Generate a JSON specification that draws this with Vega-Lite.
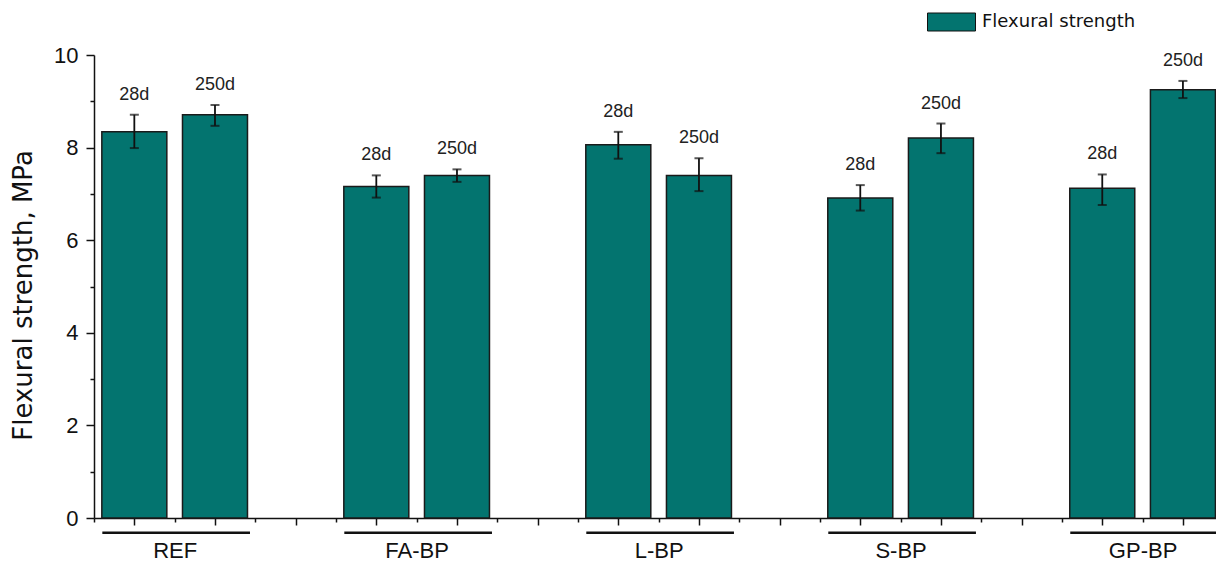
{
  "$schema": "https://vega.github.io/schema/vega-lite/v6.json",
  "width": 1122,
  "height": 463,
  "autosize": {"type": "none"},
  "padding": {"left": 94, "top": 55, "right": 0, "bottom": 44},
  "background": "white",
  "config": {
    "view": {"stroke": null},
    "axis": {"grid": false, "domainColor": "#111", "tickColor": "#111", "labelColor": "#111", "titleColor": "#111", "domainWidth": 1.5, "tickWidth": 1.5}
  },
  "datasets": {
    "bars": [
      {"group": "REF", "age": "28d", "bar": "REF|28d", "value": 8.34, "lo": 7.99, "hi": 8.71},
      {"group": "REF", "age": "250d", "bar": "REF|250d", "value": 8.71, "lo": 8.47, "hi": 8.92},
      {"group": "FA-BP", "age": "28d", "bar": "FA-BP|28d", "value": 7.16, "lo": 6.92, "hi": 7.40},
      {"group": "FA-BP", "age": "250d", "bar": "FA-BP|250d", "value": 7.40, "lo": 7.26, "hi": 7.53},
      {"group": "L-BP", "age": "28d", "bar": "L-BP|28d", "value": 8.06, "lo": 7.76, "hi": 8.34},
      {"group": "L-BP", "age": "250d", "bar": "L-BP|250d", "value": 7.40, "lo": 7.06, "hi": 7.77},
      {"group": "S-BP", "age": "28d", "bar": "S-BP|28d", "value": 6.91, "lo": 6.64, "hi": 7.19},
      {"group": "S-BP", "age": "250d", "bar": "S-BP|250d", "value": 8.21, "lo": 7.88, "hi": 8.52},
      {"group": "GP-BP", "age": "28d", "bar": "GP-BP|28d", "value": 7.12, "lo": 6.76, "hi": 7.42},
      {"group": "GP-BP", "age": "250d", "bar": "GP-BP|250d", "value": 9.25, "lo": 9.07, "hi": 9.44}
    ],
    "groups": [
      {"group": "REF", "first": "REF|28d", "last": "REF|250d"},
      {"group": "FA-BP", "first": "FA-BP|28d", "last": "FA-BP|250d"},
      {"group": "L-BP", "first": "L-BP|28d", "last": "L-BP|250d"},
      {"group": "S-BP", "first": "S-BP|28d", "last": "S-BP|250d"},
      {"group": "GP-BP", "first": "GP-BP|28d", "last": "GP-BP|250d"}
    ]
  },
  "layer": [
    {
      "data": {"name": "bars"},
      "mark": {"type": "bar", "width": 65, "stroke": "#1a1a1a", "strokeWidth": 1.5},
      "encoding": {
        "x": {
          "field": "bar",
          "type": "nominal",
          "title": null,
          "scale": {
            "type": "point",
            "padding": 0.41,
            "align": 0,
            "domain": ["_0", "REF|28d", "REF", "REF|250d", "_4", "_5", "_6", "FA-BP|28d", "FA-BP", "FA-BP|250d", "_10", "_11", "_12", "L-BP|28d", "L-BP", "L-BP|250d", "_16", "_17", "_18", "S-BP|28d", "S-BP", "S-BP|250d", "_22", "_23", "_24", "GP-BP|28d", "GP-BP", "GP-BP|250d"]
          },
          "axis": {
            "title": null,
            "labelAngle": 0,
            "labelFont": "Liberation Sans",
            "labelFontSize": 22,
            "labelPadding": 18,
            "labelBaseline": "top",
            "labelExpr": "indexof(datum.value, '|') < 0 && indexof(datum.value, '_') !== 0 ? datum.value : ''",
            "tickSize": {"condition": {"test": "indexof(datum.value, '|') >= 0 || indexof(['_5', '_11', '_17', '_23'], datum.value) >= 0", "value": 7}, "value": 4}
          }
        },
        "y": {
          "field": "value",
          "type": "quantitative",
          "title": "Flexural strength, MPa",
          "scale": {"domain": [0, 10], "nice": false},
          "axis": {
            "title": "Flexural strength, MPa",
            "titleFont": "DejaVu Sans",
            "titleFontSize": 26,
            "titleFontWeight": "normal",
            "titlePadding": 17,
            "titleY": 240,
            "values": [0, 1, 2, 3, 4, 5, 6, 7, 8, 9, 10],
            "labelExpr": "datum.value % 2 === 0 ? datum.label : ''",
            "labelFont": "Liberation Sans",
            "labelFontSize": 22,
            "labelPadding": 8,
            "tickSize": {"condition": {"test": "datum.value % 2 === 0", "value": 8}, "value": 4}
          }
        },
        "color": {
          "datum": "Flexural strength",
          "type": "nominal",
          "scale": {"range": ["#03746F"]},
          "legend": {
            "title": null,
            "orient": "none",
            "legendX": 833,
            "legendY": -57.5,
            "padding": 0,
            "symbolType": "M-1,-0.375H1V0.375H-1Z",
            "symbolSize": 2304,
            "symbolStrokeColor": "#111",
            "symbolStrokeWidth": 1,
            "labelFont": "DejaVu Sans",
            "labelFontSize": 18,
            "labelColor": "#111",
            "labelOffset": 6
          }
        }
      }
    },
    {
      "data": {"name": "bars"},
      "mark": {"type": "errorbar", "ticks": {"size": 9, "thickness": 2, "color": "#111"}, "rule": {"strokeWidth": 1.8, "color": "#111"}},
      "encoding": {
        "x": {"field": "bar", "type": "nominal", "title": null},
        "y": {"field": "lo", "type": "quantitative", "title": "Flexural strength, MPa"},
        "y2": {"field": "hi"}
      }
    },
    {
      "data": {"name": "bars"},
      "mark": {"type": "text", "font": "Liberation Sans", "fontSize": 18, "color": "#222", "baseline": "alphabetic", "dy": -15},
      "encoding": {
        "x": {"field": "bar", "type": "nominal", "title": null},
        "y": {"field": "hi", "type": "quantitative", "title": "Flexural strength, MPa"},
        "text": {"field": "age"}
      }
    },
    {
      "data": {"name": "groups"},
      "mark": {"type": "rule", "strokeWidth": 2.5, "color": "#111", "xOffset": -32, "x2Offset": 35},
      "encoding": {
        "x": {"field": "first", "type": "nominal", "title": null},
        "x2": {"field": "last"},
        "y": {"datum": -0.32, "type": "quantitative", "title": "Flexural strength, MPa"}
      }
    }
  ]
}
